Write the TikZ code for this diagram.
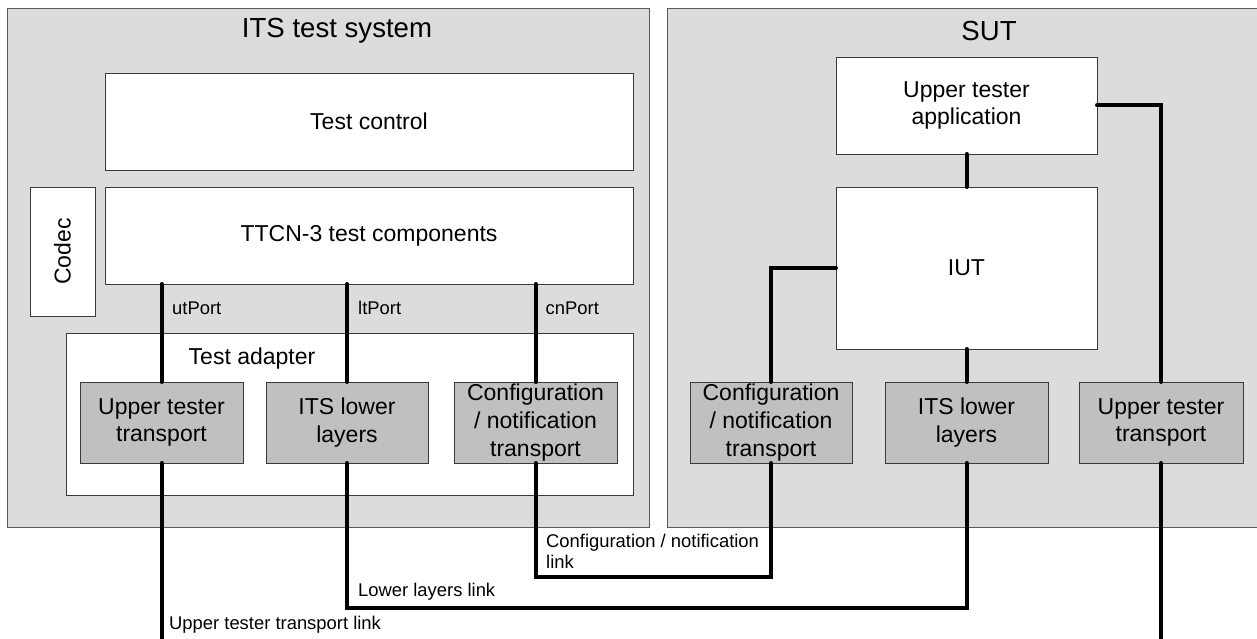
\documentclass[tikz,border=0pt]{standalone}
\usepackage{fontspec}
\setmainfont{Liberation Sans}
\definecolor{regionfill}{HTML}{DCDCDC}
\definecolor{boxgray}{HTML}{C0C0C0}
\definecolor{edge}{HTML}{3A3A3A}
\definecolor{regionedge}{HTML}{5A5A5A}
\begin{document}
\begin{tikzpicture}[x=1pt,y=-1pt,
  region/.style={draw=regionedge,fill=regionfill,line width=0.9pt,anchor=north west,inner sep=0pt,outer sep=0pt},
  whitebox/.style={draw=edge,fill=white,line width=0.9pt,anchor=north west,inner sep=0pt,outer sep=0pt,align=center,font=\fontsize{23}{27.6}\selectfont},
  graybox/.style={draw=edge,fill=boxgray,line width=0.9pt,anchor=north west,inner sep=0pt,outer sep=0pt,align=center,font=\fontsize{23}{27.6}\selectfont},
  titletext/.style={font=\fontsize{27.6}{32}\selectfont,inner sep=0pt},
  midtext/.style={font=\fontsize{23}{27.6}\selectfont,inner sep=0pt},
  smalltext/.style={font=\fontsize{18.4}{21}\selectfont,inner sep=0pt,anchor=west,align=left},
  link/.style={line width=4pt,line cap=round,line join=miter,draw=black}]
\useasboundingbox (0,0) rectangle (1257,639);
\path[clip] (0,0) rectangle (1257,639);
\fill[white] (0,0) rectangle (1257,639);
% regions
\node[region,minimum width=642pt,minimum height=519pt] (its) at (7,8) {};
\node[region,minimum width=600pt,minimum height=519pt] (sut) at (667,8) {};
\node[titletext] (itstitle) at (337,31) {ITS test system};
\node[titletext] (suttitle) at (989,31) {SUT};
% tester side
\node[whitebox,minimum width=528pt,minimum height=97pt] (testctrl) at (105,73) {Test control};
\node[whitebox,minimum width=528pt,minimum height=97pt] (ttcn) at (105,187) {TTCN-3 test components};
\node[whitebox,minimum width=65pt,minimum height=129pt] (codec) at (30,187) {};
\node[midtext,rotate=90] (codectext) at (codec.center) {Codec};
\node[whitebox,minimum width=567pt,minimum height=162pt] (adapter) at (66,333) {};
\node[midtext] (adaptertext) at (252,358.5) {Test adapter};
\node[graybox,minimum width=163pt,minimum height=81pt] (tuttr) at (80,382) {Upper tester\\transport};
\node[graybox,minimum width=162pt,minimum height=81pt] (tll) at (266,382) {ITS lower\\layers};
\node[graybox,minimum width=163pt,minimum height=81pt] (tcfg) at (454,382) {Configuration\\/ notification\\transport};
% SUT side
\node[whitebox,minimum width=261pt,minimum height=97pt] (uta) at (836,57) {Upper tester\\application};
\node[whitebox,minimum width=261pt,minimum height=162pt] (iut) at (836,187) {IUT};
\node[graybox,minimum width=162pt,minimum height=81pt] (scfg) at (690,382) {Configuration\\/ notification\\transport};
\node[graybox,minimum width=163pt,minimum height=81pt] (sll) at (885,382) {ITS lower\\layers};
\node[graybox,minimum width=164pt,minimum height=81pt] (sutr) at (1079,382) {Upper tester\\transport};
% port connectors
\draw[link] (ttcn.south -| tuttr.north) -- (tuttr.north);
\draw[link] (ttcn.south -| tll.north) -- (tll.north);
\draw[link] (ttcn.south -| tcfg.north) -- (tcfg.north);
\node[smalltext] (utport) at (172,308) {utPort};
\node[smalltext] (ltport) at (358,308) {ltPort};
\node[smalltext] (cnport) at (545.5,308) {cnPort};
% SUT internal connectors
\draw[link] (uta.south) -- (iut.north);
\draw[link] (uta.east) -| (sutr.north);
\draw[link] (iut.west) -| (scfg.north);
\draw[link] (iut.south) -- (sll.north);
% links
\coordinate (cfglevel) at (0,577);
\coordinate (lllevel) at (0,608);
\coordinate (utlevel) at (0,640.5);
\draw[link] (tcfg.south) -- (tcfg.south |- cfglevel) -| (scfg.south);
\draw[link] (tll.south) -- (tll.south |- lllevel) -| (sll.south);
\draw[link] (tuttr.south) -- (tuttr.south |- utlevel) -| (sutr.south);
\node[smalltext] (cfglabel) at (546,551.5) {Configuration / notification\\link};
\node[smalltext] (lllabel) at (358,592) {Lower layers link};
\node[smalltext] (utlabel) at (169,625) {Upper tester transport link};
\end{tikzpicture}
\end{document}
